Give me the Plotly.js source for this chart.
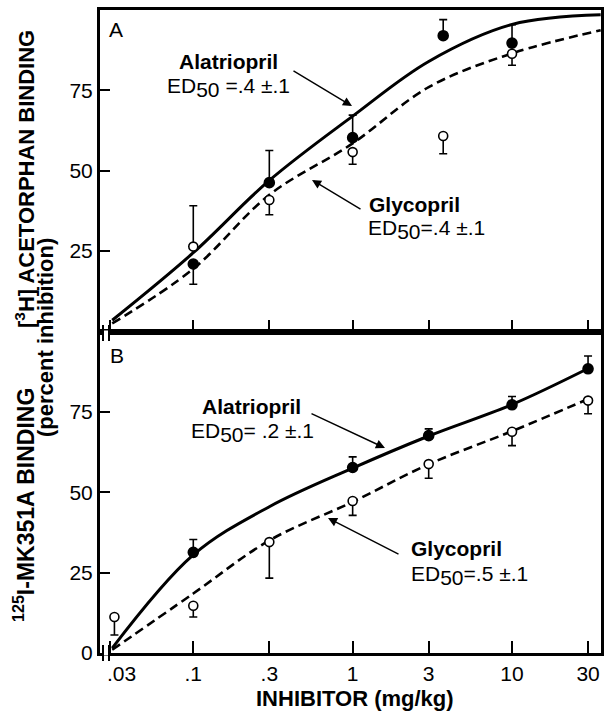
<!DOCTYPE html>
<html><head><meta charset="utf-8">
<script src="https://cdn.plot.ly/plotly-3.0.1.min.js"></script>
<style>html,body{margin:0;padding:0;background:#fff;}#chart{width:605px;height:714px;}</style>
</head><body><div id="chart"></div>
<script>
// ---------- Panel A : [3H] acetorphan binding ----------
const doseA = [0.1, 0.3, 1, 3.7, 10];
const alaA = [21, 46.3, 60.3, 92, 89.7];
const alaAErrPlus = [0, 10, 7, 5, 5.7];
const alaAErrMinus = [6.3, 0, 0, 0, 0];
const glyA = [26.4, 40.9, 55.8, 60.8, 86.4];
const glyAErrPlus = [12.7, 0, 0, 0, 0];
const glyAErrMinus = [0, 4.6, 3.8, 5.5, 3.6];
const curveDoseA = [0.031, 0.1, 0.3, 1, 3, 10, 36];
const alaCurveA = [3.5, 24.5, 47, 67, 84, 95.5, 98.5];
const glyCurveA = [2.5, 19.5, 42.5, 58.5, 76, 86.5, 93.7];

// ---------- Panel B : 125I-MK351A binding ----------
const doseBAla = [0.1, 1, 3, 10, 30];
const alaB = [31.3, 57.7, 67.6, 77.2, 88.4];
const alaBErrPlus = [4, 3.3, 2.1, 2.6, 4];
const doseBGly = [0.032, 0.1, 0.3, 1, 3, 10, 30];
const glyB = [11.2, 14.7, 34.5, 47.3, 58.75, 68.8, 78.5];
const glyBErrMinus = [5.6, 3.5, 11.2, 4.5, 4.4, 4.3, 4.1];
const curveDoseB = [0.031, 0.1, 0.3, 1, 3, 10, 30];
const alaCurveB = [1.5, 30.5, 45.5, 57.5, 67.5, 77.3, 88.5];
const glyCurveB = [1, 18.5, 35, 47, 58.7, 69, 79];

// ---------- ticks ----------
const xTickVals = [0.03, 0.1, 0.3, 1, 3, 10, 30];
const xTickText = ['\u00a0\u00a0\u00a0\u00a0.03', '.1', '.3', '1', '3', '10', '30'];
const yTickValsA = [25, 50, 75];
const yTickValsB = [0, 25, 50, 75];

const FONT = 'Liberation Sans, Arial, Helvetica, sans-serif';
const W = 605, H = 714, ML = 100, MR = 4, MT = 10, MB = 61;
const PW = W - ML - MR, PH = H - MT - MB;
const px = x => (x - ML) / PW;
const py = y => (H - MB - y) / PH;

function curve(x, y, dashed, xa, ya) {
  return {x, y, xaxis: xa, yaxis: ya, mode: 'lines', type: 'scatter', hoverinfo: 'skip',
    line: {color: 'black', width: dashed ? 2.6 : 3, dash: dashed ? '9px,5px' : 'solid', shape: 'spline', smoothing: 1}};
}
function pts(x, y, plus, minus, filled, xa, ya) {
  return {x, y, xaxis: xa, yaxis: ya, mode: 'markers', type: 'scatter',
    marker: {size: filled ? 10 : 9, color: filled ? 'black' : 'white', line: {color: 'black', width: 1.6}},
    error_y: {type: 'data', symmetric: false, array: plus, arrayminus: minus, color: 'black', thickness: 1.6, width: 4}};
}
const zeros = n => new Array(n).fill(0);

const data = [
  curve(curveDoseA, alaCurveA, false, 'x2', 'y2'),
  curve(curveDoseA, glyCurveA, true, 'x2', 'y2'),
  pts(doseA, glyA, glyAErrPlus, glyAErrMinus, false, 'x2', 'y2'),
  pts(doseA, alaA, alaAErrPlus, alaAErrMinus, true, 'x2', 'y2'),
  curve(curveDoseB, alaCurveB, false, 'x', 'y'),
  curve(curveDoseB, glyCurveB, true, 'x', 'y'),
  pts(doseBGly, glyB, zeros(glyB.length), glyBErrMinus, false, 'x', 'y'),
  pts(doseBAla, alaB, alaBErrPlus, zeros(alaB.length), true, 'x', 'y')
];

const xr = [Math.log10(0.03) - 10 / 160, Math.log10(30) + 13 / 160];
const axBase = {showline: true, linewidth: 3, linecolor: 'black', mirror: true, showgrid: false, zeroline: false,
  ticks: 'inside', tickcolor: 'black', tickwidth: 2};

const layout = {
  width: W, height: H,
  margin: {l: ML, r: MR, t: MT, b: MB, pad: 0},
  paper_bgcolor: 'white', plot_bgcolor: 'white', showlegend: false,
  font: {family: FONT, color: 'black', size: 20},
  xaxis: Object.assign({}, axBase, {type: 'log', range: xr, anchor: 'y', tickvals: xTickVals, ticktext: xTickText,
    ticklen: 12, tickfont: {size: 21}}),
  xaxis2: Object.assign({}, axBase, {type: 'log', range: xr, anchor: 'y2', matches: 'x', tickvals: xTickVals,
    showticklabels: false, ticklen: 12}),
  yaxis: Object.assign({}, axBase, {domain: [0, 0.5], range: [0, 100], anchor: 'x', tickvals: yTickValsB,
    ticklen: 10, tickfont: {size: 21}}),
  yaxis2: Object.assign({}, axBase, {domain: [0.5, 1], range: [0, 100], anchor: 'x2', tickvals: yTickValsA,
    ticklen: 10, tickfont: {size: 21}}),
  shapes: [],
  annotations: []
};

// axis break marks on the x axes
[653, 333].forEach(yy => {
  layout.shapes.push({type: 'rect', xref: 'paper', yref: 'paper', x0: px(103.5), x1: px(108.5), y0: py(yy + 2.5), y1: py(yy - 2.5),
    fillcolor: 'white', line: {width: 0}});
  [103, 109].forEach(xx => layout.shapes.push({type: 'line', xref: 'paper', yref: 'paper', x0: px(xx), x1: px(xx),
    y0: py(yy + 8), y1: py(yy - 8), line: {color: 'black', width: 2}}));
});

function txt(text, x, y, size, bold, xanchor, angle) {
  layout.annotations.push({text, x: px(x), y: py(y), xref: 'paper', yref: 'paper', showarrow: false,
    xanchor: xanchor || 'center', yanchor: 'middle', textangle: angle || 0,
    font: {family: FONT, size, color: 'black', weight: bold ? 'bold' : 'normal'}});
}
function arrow(hx, hy, tx, ty) {
  layout.annotations.push({text: '', x: px(hx), y: py(hy), xref: 'paper', yref: 'paper', showarrow: true,
    ax: tx - hx, ay: ty - hy, arrowhead: 2, arrowsize: 1.3, arrowwidth: 1.4, arrowcolor: 'black', standoff: 0});
}
const ED = v => 'ED<sub><span style="font-size:21px">50</span></sub>' + v;

// panel letters
txt('A', 116, 30, 21, false);
txt('B', 117, 355, 21, false);
// panel A labels
txt('Alatriopril', 228, 62, 21, true);
txt(ED(' =.4 ±.1'), 228, 88, 21, false);
arrow(352, 106, 292, 70);
txt('Glycopril', 367, 204, 21, true, 'left');
txt(ED('=.4 ±.1'), 366, 229, 21, false, 'left');
arrow(312, 180, 362, 210);
// panel B labels
txt('Alatriopril', 251, 407, 21, true);
txt(ED('= .2 ±.1'), 252, 432, 21, false);
arrow(385, 448, 310, 413);
txt('Glycopril', 409, 548, 21, true, 'left');
txt(ED('=.5 ±.1'), 409, 575, 21, false, 'left');
arrow(328, 518, 400, 555);

// axis titles
txt('[<sup>3</sup>H] ACETORPHAN BINDING', 25, 179, 22, true, 'center', -90);
txt('(percent inhibition)', 46, 338, 22, true, 'center', -90);
txt('<sup>125</sup>I-MK351A BINDING', 24, 505, 23, true, 'center', -90);
txt('INHIBITOR (mg/kg)', 355, 698, 22, true);

Plotly.newPlot('chart', data, layout, {displayModeBar: false, staticPlot: true});
</script>
</body></html>
